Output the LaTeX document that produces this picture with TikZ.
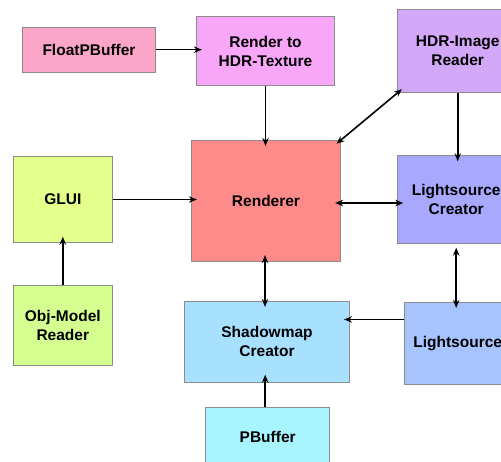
\documentclass[tikz,border=0pt]{standalone}
\usepackage{fontspec}
\setmainfont{Liberation Sans}
\usetikzlibrary{arrows.meta}
\definecolor{cFloat}{HTML}{FBA6C8}
\definecolor{cRT}{HTML}{F8A6F8}
\definecolor{cHDR}{HTML}{D4A8F8}
\definecolor{cGLUI}{HTML}{E4FF8C}
\definecolor{cObj}{HTML}{D4FF90}
\definecolor{cRen}{HTML}{FF8A8A}
\definecolor{cLSC}{HTML}{A8A8FF}
\definecolor{cLS}{HTML}{A8C4FF}
\definecolor{cSM}{HTML}{A8E0FF}
\definecolor{cPB}{HTML}{A8F4FF}
\begin{document}
\begin{tikzpicture}[x=1pt,y=-1pt,
  box/.style={draw=black!45,line width=0.8pt,inner sep=0pt,align=center,
    font=\fontsize{15.5}{19}\selectfont\bfseries},
  arr/.style={line width=1.6pt,-{Stealth[length=8pt,width=6.5pt]},shorten >=-6pt},
  darr/.style={line width=1.6pt,{Stealth[length=8pt,width=6.5pt]}-{Stealth[length=8pt,width=6.5pt]},shorten >=-6pt,shorten <=-6pt}]
\clip (0,0) rectangle (501,462);
\node[box,fill=cFloat,minimum width=133.4pt,minimum height=45.3pt] (fpb) at (89,49.7) {FloatPBuffer};
\node[box,fill=cRT,minimum width=138.4pt,minimum height=69.4pt] (rt) at (265.5,51) {Render to\\HDR-Texture};
\node[box,fill=cHDR,minimum width=120pt,minimum height=83.7pt] (hdr) at (457.7,50.8) {HDR-Image\\Reader};
\node[box,fill=cGLUI,minimum width=99pt,minimum height=85.6pt] (glui) at (62.8,199.5) {GLUI};
\node[box,fill=cObj,minimum width=99pt,minimum height=80.7pt] (obj) at (62.8,325.3) {Obj-Model\\Reader};
\node[box,fill=cRen,minimum width=149.4pt,minimum height=121.4pt] (ren) at (266,201) {Renderer};
\node[box,fill=cLSC,minimum width=117pt,minimum height=87.6pt] (lsc) at (456.2,199.5) {Lightsource\\Creator};
\node[box,fill=cSM,minimum width=165.4pt,minimum height=81pt] (sm) at (267,341.8) {Shadowmap\\Creator};
\node[box,fill=cLS,minimum width=106pt,minimum height=82.4pt] (ls) at (457.7,343.5) {Lightsource};
\node[box,fill=cPB,minimum width=124pt,minimum height=60pt] (pb) at (267.7,437.3) {PBuffer};
\draw[arr] (fpb.east) -- (rt.west |- fpb.east);
\draw[arr] (rt.south) -- (rt.south |- ren.north);
\draw[darr] (ren.north east) -- (hdr.south west);
\draw[arr] (glui.east) -- (ren.west |- glui.east);
\draw[arr] (obj.north) -- (glui.south);
\draw[darr] ([yshift=-2pt]ren.east) -- ([yshift=-2pt]ren.east -| lsc.west);
\draw[arr] (hdr.south) -- (hdr.south |- lsc.north);
\draw[darr,shorten <=4pt] (lsc.south) -- (lsc.south |- ls.north);
\draw[arr] ([yshift=24pt]ls.west) -- ([yshift=24pt]ls.west -| sm.east);
\draw[darr,shorten <=-7pt] ([xshift=-1pt]ren.south) -- ([xshift=-1pt]ren.south |- sm.north);
\draw[arr,shorten >=-8pt] ([xshift=-2.5pt]pb.north) -- ([xshift=-2.5pt]pb.north |- sm.south);
\end{tikzpicture}
\end{document}
